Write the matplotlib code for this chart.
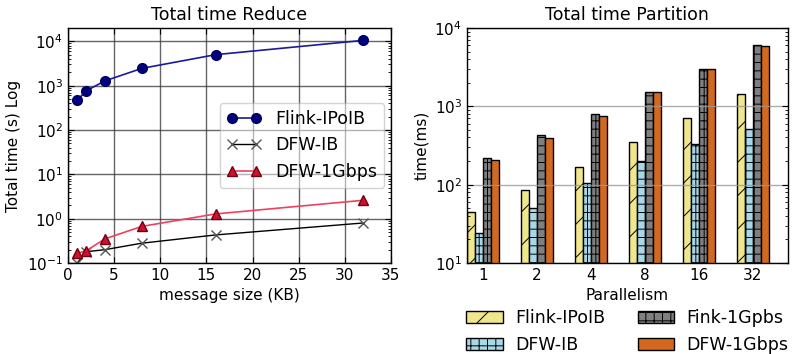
import numpy as np
import matplotlib
matplotlib.use("Agg")
import matplotlib.pyplot as plt
from matplotlib.ticker import LogLocator, NullFormatter

# --- Reduce: total time vs message size ---
msg_size_kb = [1, 2, 4, 8, 16, 32]
reduce_flink_ipoib = [470, 770, 1280, 2450, 5000, 10500]
reduce_dfw_ib = [0.1, 0.18, 0.2, 0.28, 0.43, 0.8]
reduce_dfw_1gbps = [0.165, 0.19, 0.35, 0.67, 1.28, 2.6]

# --- Partition: total time vs parallelism ---
parallelism = ["1", "2", "4", "8", "16", "32"]
part_flink_ipoib = [45, 86, 168, 351, 717, 1437]
part_dfw_ib = [24.5, 51, 106, 202, 334, 508]
part_fink_1gpbs = [219, 435, 798, 1540, 3000, 6010]
part_dfw_1gbps = [206, 398, 760, 1540, 3000, 5830]

plt.rcParams.update({
    "font.family": "DejaVu Sans",
    "xtick.direction": "in",
    "ytick.direction": "in",
    "xtick.top": True,
    "ytick.right": True,
    "xtick.major.size": 4,
    "ytick.major.size": 4,
    "xtick.minor.size": 2,
    "ytick.minor.size": 2,
    "xtick.labelsize": 11,
    "ytick.labelsize": 11,
    "axes.linewidth": 1.0,
    "hatch.linewidth": 0.7,
})

fig = plt.figure(figsize=(7.94, 3.54), dpi=100)
ax1 = fig.add_axes([0.0856, 0.257, 0.4068, 0.664])
ax2 = fig.add_axes([0.588, 0.257, 0.4044, 0.664])


def log_minor(ax):
    ax.yaxis.set_major_locator(LogLocator(base=10, numticks=20))
    ax.yaxis.set_minor_locator(LogLocator(base=10, subs=np.arange(2, 10), numticks=100))
    ax.yaxis.set_minor_formatter(NullFormatter())


# Left panel
ax1.plot(msg_size_kb, reduce_flink_ipoib, "-o", color="#1a1a9a", mfc="#000080",
         mec="#000060", ms=7, lw=1.2, label="Flink-IPoIB")
ax1.plot(msg_size_kb, reduce_dfw_ib, "-x", color="black", mec="#555555",
         ms=7, mew=1.0, lw=1.0, label="DFW-IB")
ax1.plot(msg_size_kb, reduce_dfw_1gbps, "-^", color="#f0405f", mfc="#d01030",
         mec="#700010", ms=7, lw=1.2, label="DFW-1Gbps")
ax1.set_yscale("log")
ax1.set_xlim(0, 35)
ax1.set_ylim(0.1, 2e4)
log_minor(ax1)
ax1.set_xticks(range(0, 36, 5))
ax1.grid(True, which="major", color="#333333", lw=1.0, alpha=0.75)
ax1.set_title("Total time Reduce", fontsize=12.5)
ax1.set_xlabel("message size (KB)", fontsize=11)
ax1.set_ylabel("Total time (s) Log", fontsize=11)
ax1.legend(loc="center right", numpoints=2, fontsize=12.5, fancybox=True,
           framealpha=0.5, edgecolor="#aaaaaa", borderaxespad=0.4,
           handlelength=2.0)

# Right panel
x = np.arange(len(parallelism))
width = 0.15
series = [
    (part_flink_ipoib, "#f0e68c", "/", "Flink-IPoIB"),
    (part_dfw_ib, "#a8d8e8", "++", "DFW-IB"),
    (part_fink_1gpbs, "#7f7f7f", "++", "Fink-1Gpbs"),
    (part_dfw_1gbps, "#d2691e", "", "DFW-1Gbps"),
]
for k, (vals, col, hat, lab) in enumerate(series):
    ax2.bar(x - 0.3 + k * width, vals, width, align="edge", color=col,
            edgecolor="black", linewidth=1.0, hatch=hat, label=lab)
ax2.set_yscale("log")
ax2.set_ylim(10, 1e4)
log_minor(ax2)
ax2.set_xlim(-0.3, 5.65)
ax2.set_xticks(x)
ax2.set_xticklabels(parallelism)
ax2.tick_params(axis="x", which="both", top=False)
ax2.yaxis.grid(True, which="major", color="#999999", lw=1.0, alpha=0.8)
ax2.set_title("Total time Partition", fontsize=12.5)
ax2.set_xlabel("Parallelism", fontsize=11)
ax2.set_ylabel("time(ms)", fontsize=11)
ax2.legend(loc="upper center", bbox_to_anchor=(0.5, -0.145), ncol=2,
           frameon=False, fontsize=12.5, handlelength=2.1, columnspacing=1.9,
           handletextpad=0.7, labelspacing=0.5, borderpad=0.2)

fig.savefig("out.png", dpi=100)
